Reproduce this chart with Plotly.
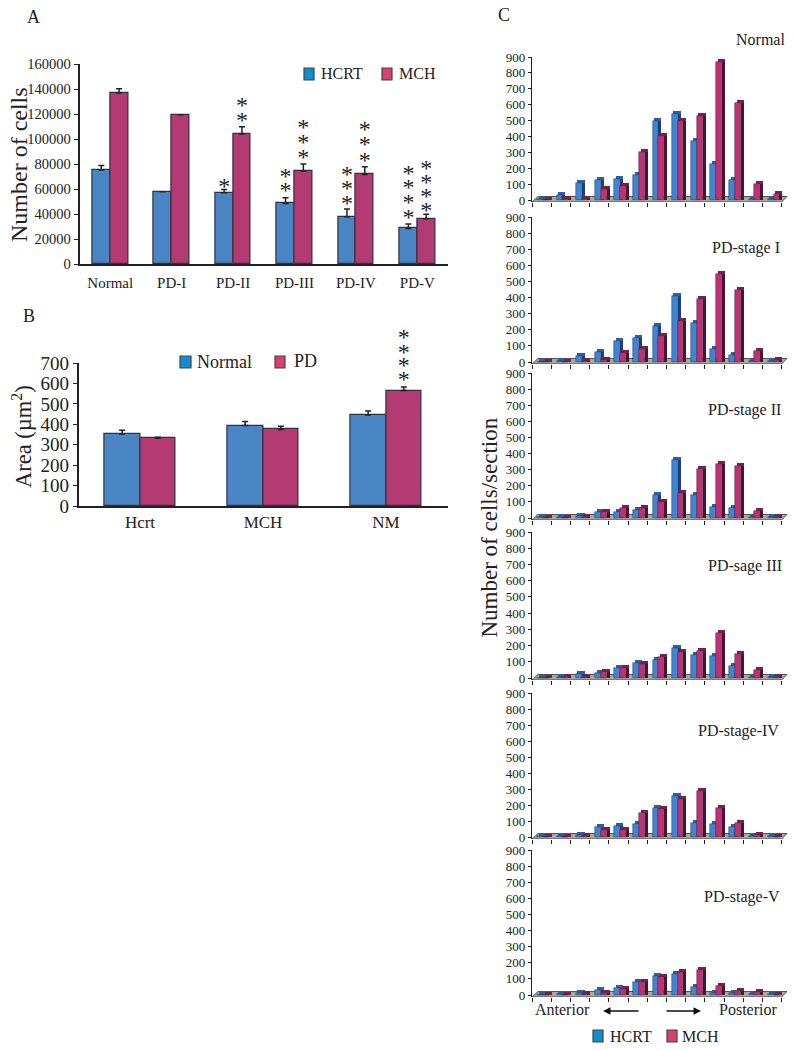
import plotly.graph_objects as go

W, H = 796, 1050
FONT = "Liberation Serif"
INK = "#222222"

# ---------- Panel A ----------
a_groups = ["Normal", "PD-I", "PD-II", "PD-III", "PD-IV", "PD-V"]
a_hcrt = [75200, 57900, 57100, 48500, 37900, 28500]
a_mch = [136800, 119500, 104000, 74400, 71700, 36300]
a_hcrt_err = [3700, 0, 2600, 4500, 6100, 3500]
a_mch_err = [3500, 0, 5900, 5600, 6100, 3500]
a_ticks = [0, 20000, 40000, 60000, 80000, 100000, 120000, 140000, 160000]
a_hcrt_stars = [[], [], [64800], [72500, 61300], [74600, 63000, 51200], [75200, 63700, 52000, 40000]]
a_mch_stars = [[], [], [129800, 117800], [112000, 100000, 88000], [110400, 98400, 85800], [79200, 67700, 56500, 45300]]

# ---------- Panel B ----------
b_groups = ["Hcrt", "MCH", "NM"]
b_normal = [353, 394, 445]
b_pd = [332, 375, 565]
b_normal_err = [18, 20, 20]
b_pd_err = [5, 15, 18]
b_ticks = [0, 100, 200, 300, 400, 500, 600, 700]
b_stars = [842, 768, 705, 636]

# ---------- Panel C ----------
c_ticks = [0, 100, 200, 300, 400, 500, 600, 700, 800, 900]
c_titles = ["Normal", "PD-stage I", "PD-stage II", "PD-sage III", "PD-stage-IV", "PD-stage-V"]
normal_hcrt = [5, 30, 105, 125, 130, 160, 495, 540, 370, 225, 125, 5, 5]
normal_mch = [3, 5, 5, 70, 85, 305, 400, 495, 530, 870, 610, 100, 40]
stage1_hcrt = [3, 5, 40, 60, 130, 150, 225, 410, 240, 80, 45, 5, 5]
stage1_mch = [2, 3, 5, 15, 55, 80, 160, 255, 390, 545, 445, 70, 10]
stage2_hcrt = [5, 5, 12, 35, 35, 50, 145, 360, 145, 70, 60, 5, 5]
stage2_mch = [2, 3, 5, 35, 65, 65, 100, 155, 305, 335, 320, 45, 5]
stage3_hcrt = [3, 8, 22, 30, 60, 90, 110, 185, 140, 135, 75, 8, 5]
stage3_mch = [3, 5, 8, 35, 62, 85, 130, 160, 165, 280, 150, 50, 5]
stage4_hcrt = [5, 8, 15, 60, 68, 80, 180, 255, 90, 80, 60, 5, 5]
stage4_mch = [3, 3, 5, 45, 45, 150, 175, 240, 285, 180, 90, 15, 3]
stage5_hcrt = [3, 5, 15, 30, 42, 78, 120, 132, 50, 15, 10, 8, 5]
stage5_mch = [2, 3, 4, 10, 35, 78, 110, 145, 155, 55, 22, 18, 3]
c_hcrt = [normal_hcrt, stage1_hcrt, stage2_hcrt, stage3_hcrt, stage4_hcrt, stage5_hcrt]
c_mch = [normal_mch, stage1_mch, stage2_mch, stage3_mch, stage4_mch, stage5_mch]

BLUE, RED = "#4a86c5", "#b33a73"
C_BLUE, C_RED = "#3f85d6", "#c2306f"
C_BLUE_SIDE, C_RED_SIDE = "#1f3f78", "#4a1532"
C_BLUE_TOP, C_RED_TOP = "#2f5ea6", "#7a1f4c"
LEG_BLUE, LEG_RED = "#0f8fd2", "#d8406f"
FLOOR = "#a9a9a0"


def px(x):
    return x / W


def py(y):
    return 1 - y / H


fig = go.Figure()
layout = dict(
    width=W, height=H, autosize=False, showlegend=False,
    margin=dict(l=0, r=0, t=0, b=0, pad=0, autoexpand=False),
    paper_bgcolor="white", plot_bgcolor="rgba(0,0,0,0)", bargap=0,
    barmode="overlay", font=dict(family=FONT, color=INK),
)
shapes, annos = [], []


def text(x, y, s, size, angle=0, anchor="center"):
    annos.append(dict(x=px(x), y=py(y), xref="paper", yref="paper", text=s, showarrow=False,
                      font=dict(family=FONT, size=size, color=INK), textangle=angle,
                      xanchor=anchor, yanchor="middle"))


def swatch(x0, x1, y0, y1, col):
    shapes.append(dict(type="rect", xref="paper", yref="paper", x0=px(x0), x1=px(x1),
                       y0=py(y1), y1=py(y0), fillcolor=col, line=dict(color="#444444", width=1.2)))


def axes(n, left, right, top, bottom, xr, yr):
    s = "" if n == 1 else str(n)
    layout["xaxis" + s] = dict(domain=[px(left), px(right)], range=xr, anchor="y" + s, showgrid=False,
                               zeroline=False, fixedrange=True)
    layout["yaxis" + s] = dict(domain=[py(bottom), py(top)], range=yr, anchor="x" + s, showgrid=False,
                               zeroline=False, fixedrange=True, showline=True, linecolor=INK, linewidth=1.5,
                               ticks="outside", ticklen=4, tickcolor=INK)
    return "x" + s, "y" + s


def grouped(xa, ya, vals, errs, shift, w, col):
    fig.add_trace(go.Bar(
        x=list(range(len(vals))), y=vals, xaxis=xa, yaxis=ya, width=w, offset=shift,
        marker=dict(color=col, line=dict(color="#33333f", width=1.2)),
        error_y=dict(type="data", array=errs, symmetric=False, thickness=1.5, width=3, color=INK),
    ))


# Panel A
xa, ya = axes(1, 79.5, 448, 64, 264, [-0.5, 5.5], [0, 160000])
layout["xaxis"].update(tickvals=list(range(6)), ticktext=a_groups, tickfont=dict(size=15), ticks="",
                       showline=True, linecolor=INK, linewidth=1.5, ticklabelstandoff=4)
layout["yaxis"].update(tickvals=a_ticks, tickformat="d", tickfont=dict(size=14.5))
BW = 0.29
grouped(xa, ya, a_hcrt, a_hcrt_err, -BW, BW, BLUE)
grouped(xa, ya, a_mch, a_mch_err, 0, BW, RED)
sx, sy = [], []
for i, col in enumerate(a_hcrt_stars):
    sx += [i - BW / 2] * len(col)
    sy += col
for i, col in enumerate(a_mch_stars):
    sx += [i + BW / 2] * len(col)
    sy += col
fig.add_trace(go.Scatter(x=sx, y=[v - 4000 for v in sy], xaxis=xa, yaxis=ya, mode="text",
                         text=["*"] * len(sx), textposition="middle center", cliponaxis=False,
                         textfont=dict(family=FONT, size=24, color=INK), hoverinfo="skip"))

# Panel B
xa, ya = axes(2, 78.5, 447.5, 363, 506, [-0.5, 2.5], [0, 700])
layout["xaxis2"].update(tickvals=[0, 1, 2], ticktext=b_groups, tickfont=dict(size=17), ticks="",
                        showline=True, linecolor=INK, linewidth=1.5, ticklabelstandoff=0)
layout["yaxis2"].update(tickvals=b_ticks, tickfont=dict(size=19))
grouped(xa, ya, b_normal, b_normal_err, -BW, BW, BLUE)
grouped(xa, ya, b_pd, b_pd_err, 0, BW, RED)
# the significance stars rise above the axis top, so they get a taller hidden axis of the same scale
layout["yaxis9"] = dict(domain=[py(506), py(320)], range=[0, 700 * 186 / 143], anchor=xa, visible=False,
                        fixedrange=True)
fig.add_trace(go.Scatter(x=[2 + BW / 2] * len(b_stars), y=[v - 25 for v in b_stars], xaxis=xa, yaxis="y9",
                         mode="text", text=["*"] * len(b_stars), textposition="middle center",
                         cliponaxis=False, textfont=dict(family=FONT, size=24, color=INK), hoverinfo="skip"))

# Panel C
tops = [57, 217, 373, 532, 693, 850]
bottoms = [200, 362, 518, 678, 837, 995]
FRONT = 5.8 / 19.2      # bar width in band units
START = 0.285           # first bar's left edge within a band
DX = 3 / 19.2           # depth of the extrusion, in band units
title_pos = [(760, 40), (746, 248), (744, 410), (744.5, 566), (738.5, 731), (741.5, 897)]
for k in range(6):
    n = 3 + k
    pxunit = 900 / (bottoms[k] - tops[k])
    lo = -2 * pxunit
    xa, ya = axes(n, 532, 787, tops[k], bottoms[k] + 2, [0, 255 / 19.2], [lo, 900])
    layout["yaxis" + str(n)].update(tickvals=c_ticks, tickfont=dict(size=13), ticklen=3, linewidth=1.2)
    layout["xaxis" + str(n)].update(tickvals=list(range(14)), showticklabels=False, ticks="outside",
                                    ticklen=4, tickcolor=INK, showline=False)
    DY = 3 * pxunit
    # floor of the pseudo-3D chart
    shapes.append(dict(type="path", xref=xa, yref=ya, layer="below",
                       path=f"M 0 {lo} L {6 / 19.2} {lo + 5.5 * pxunit} L {255 / 19.2} {lo + 5.5 * pxunit} "
                            f"L 13 {lo} Z",
                       fillcolor=FLOOR, line=dict(color="#333333", width=0.8)))
    idx = list(range(13))
    for vals, left, front, side, top in ((c_hcrt[k], START, C_BLUE, C_BLUE_SIDE, C_BLUE_TOP),
                                         (c_mch[k], START + FRONT, C_RED, C_RED_SIDE, C_RED_TOP)):
        # right-hand side face
        fig.add_trace(go.Bar(x=idx, y=[v + DY for v in vals], base=0, xaxis=xa, yaxis=ya,
                             offset=left + FRONT, width=DX, marker=dict(color=side, line=dict(width=0))))
        # top face
        fig.add_trace(go.Bar(x=idx, y=[DY] * 13, base=vals, xaxis=xa, yaxis=ya,
                             offset=left + DX / 2, width=FRONT + DX / 2, marker=dict(color=top, line=dict(width=0))))
        # front face
        fig.add_trace(go.Bar(x=idx, y=vals, base=0, xaxis=xa, yaxis=ya, offset=left, width=FRONT,
                             marker=dict(color=front, line=dict(color="#20304a", width=0.5))))
    text(title_pos[k][0], title_pos[k][1], c_titles[k], 16)

# Panel letters and axis titles
text(33, 17, "A", 18)
text(29, 316, "B", 18)
text(504, 15, "C", 18)
text(19, 165, "Number of cells", 24, angle=-90)
text(22, 437, "Area (µm<sup>2</sup>)", 22.5, angle=-90)
text(489, 527.5, "Number of cells/section", 23, angle=-90)

# Legends
swatch(304, 314, 68, 80, LEG_BLUE)
text(342, 73, "HCRT", 16)
swatch(382, 392, 68, 80, LEG_RED)
text(417, 73, "MCH", 16)
swatch(180, 191, 356, 368, LEG_BLUE)
text(224.5, 362, "Normal", 18)
swatch(275, 285, 356, 368, LEG_RED)
text(305.5, 361, "PD", 18)
swatch(593, 603, 1030, 1042, LEG_BLUE)
text(631, 1036, "HCRT", 16)
swatch(667, 677, 1030, 1042, LEG_RED)
text(700.5, 1036, "MCH", 16)

# Direction labels under panel C
text(562, 1009, "Anterior", 16)
text(748, 1009, "Posterior", 16)
for tip, tail in ((603, 640), (701, 665)):
    annos.append(dict(x=px(tip), y=py(1011), xref="paper", yref="paper", ax=tail - tip, ay=0,
                      text="", showarrow=True, arrowhead=2, arrowsize=1, arrowwidth=1.5, arrowcolor="#111111"))

layout["shapes"] = shapes
layout["annotations"] = annos
fig.update_layout(**layout)
fig.write_html("out.html", config=dict(displayModeBar=False), post_script="document.body.style.margin='0';")
